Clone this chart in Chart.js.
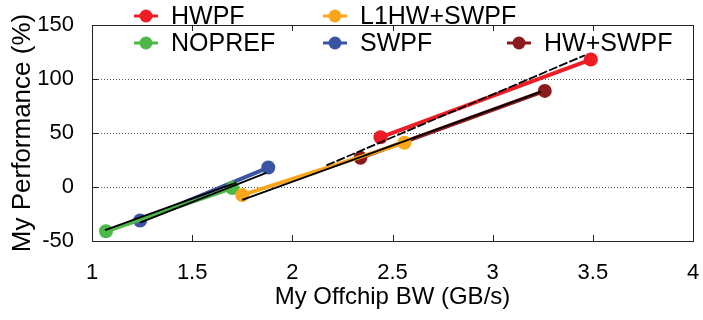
<!DOCTYPE html>
<html>
<head>
<meta charset="utf-8">
<script src="https://cdn.jsdelivr.net/npm/chart.js@4/dist/chart.umd.min.js"></script>
<style>
  html, body { margin: 0; padding: 0; background: #fff; }
  #wrap { width: 703px; height: 320px; }
</style>
</head>
<body>
<div id="wrap"><canvas id="c" width="703" height="320"></canvas></div>
<script>
// Each configuration: offchip bandwidth (GB/s) vs performance (%)
const seriesNames = ['HWPF', 'L1HW+SWPF', 'NOPREF', 'SWPF', 'HW+SWPF'];
const seriesColors = ['#ee1d25', '#f9a61d', '#4db848', '#3a54a4', '#8b1a1c'];

const hwpfBW = [2.44, 3.49];
const hwpfPerf = [46, 118];
const l1hwSwpfBW = [1.75, 2.56];
const l1hwSwpfPerf = [-7.5, 41];
const noprefBW = [1.07, 1.70];
const noprefPerf = [-41, -1];
const swpfBW = [1.24, 1.88];
const swpfPerf = [-31, 18];
const hwSwpfBW = [2.34, 3.26];
const hwSwpfPerf = [27, 89];

// Black trend segments
const trendA_BW = [1.065, 1.72];
const trendA_Perf = [-40, 4];
const trendB_BW = [1.24, 1.87];
const trendB_Perf = [-33, 13];
const trendC_BW = [1.75, 3.24];
const trendC_Perf = [-12, 88];
const trendD_BW = [2.17, 3.46];
const trendD_Perf = [20, 122];

const xTicks = [1, 1.5, 2, 2.5, 3, 3.5, 4];
const yTicks = [-50, 0, 50, 100, 150];

const pts = (xs, ys) => xs.map((x, i) => ({ x: x, y: ys[i] }));

const seriesData = [
  pts(hwpfBW, hwpfPerf),
  pts(l1hwSwpfBW, l1hwSwpfPerf),
  pts(noprefBW, noprefPerf),
  pts(swpfBW, swpfPerf),
  pts(hwSwpfBW, hwSwpfPerf)
];

const datasets = seriesNames.map((name, i) => ({
  label: name,
  data: seriesData[i],
  borderColor: seriesColors[i],
  backgroundColor: seriesColors[i],
  borderWidth: 4,
  pointRadius: 7,
  pointHoverRadius: 7,
  pointBorderWidth: 0,
  order: 2
}));

const trends = [
  [trendA_BW, trendA_Perf, []],
  [trendB_BW, trendB_Perf, []],
  [trendC_BW, trendC_Perf, []],
  [trendD_BW, trendD_Perf, [9, 2]]
];
trends.forEach(([xs, ys, dash]) => {
  datasets.push({
    label: '',
    data: pts(xs, ys),
    borderColor: '#000',
    borderWidth: 1.8,
    borderDash: dash,
    pointRadius: 0,
    order: 1
  });
});

const FONT = '"Liberation Sans", Arial, sans-serif';

// Box, inward ticks, dotted grid and the two-row key
const framePlugin = {
  id: 'frame',
  beforeDatasetsDraw(chart) {
    const { ctx, chartArea: a, scales } = chart;
    ctx.save();
    ctx.strokeStyle = '#555';
    ctx.lineWidth = 1;
    ctx.setLineDash([1, 2]);
    [0, 50, 100].forEach(v => {
      const y = Math.round(scales.y.getPixelForValue(v)) + 0.5;
      ctx.beginPath();
      ctx.moveTo(a.left, y);
      ctx.lineTo(a.right, y);
      ctx.stroke();
    });
    ctx.restore();
  },
  afterDatasetsDraw(chart) {
    const { ctx, chartArea: a, scales } = chart;
    ctx.save();
    ctx.strokeStyle = '#222';
    ctx.lineWidth = 1;
    ctx.strokeRect(Math.round(a.left) + 0.5, Math.round(a.top) + 0.5,
                   Math.round(a.right - a.left), Math.round(a.bottom - a.top));
    const t = 6;
    ctx.beginPath();
    xTicks.slice(1, -1).forEach(v => {
      const x = Math.round(scales.x.getPixelForValue(v)) + 0.5;
      ctx.moveTo(x, a.bottom); ctx.lineTo(x, a.bottom - t);
      ctx.moveTo(x, a.top); ctx.lineTo(x, a.top + t);
    });
    yTicks.slice(1, -1).forEach(v => {
      const y = Math.round(scales.y.getPixelForValue(v)) + 0.5;
      ctx.moveTo(a.left, y); ctx.lineTo(a.left + t, y);
      ctx.moveTo(a.right, y); ctx.lineTo(a.right - t, y);
    });
    ctx.stroke();

    // key
    const slots = [[146, 16], [335, 16], [146, 43], [335, 43], [519, 43]];
    ctx.font = '25px ' + FONT;
    ctx.textBaseline = 'middle';
    ctx.textAlign = 'left';
    seriesNames.forEach((name, i) => {
      const [mx, my] = slots[i];
      ctx.strokeStyle = seriesColors[i];
      ctx.fillStyle = seriesColors[i];
      ctx.lineWidth = 3;
      ctx.beginPath();
      ctx.moveTo(mx - 12, my); ctx.lineTo(mx + 12, my);
      ctx.stroke();
      ctx.beginPath();
      ctx.arc(mx, my, 6.5, 0, Math.PI * 2);
      ctx.fill();
      ctx.fillStyle = '#000';
      ctx.fillText(name, mx + 25, my + 1);
    });
    ctx.restore();
  }
};

new Chart(document.getElementById('c'), {
  type: 'line',
  data: { datasets: datasets },
  options: {
    responsive: false,
    animation: false,
    devicePixelRatio: 1,
    layout: { padding: { top: 25, right: 10, left: 0, bottom: 0 } },
    plugins: { legend: { display: false }, tooltip: { enabled: false } },
    scales: {
      x: {
        type: 'linear',
        min: 1, max: 4,
        afterBuildTicks: s => { s.ticks = xTicks.map(v => ({ value: v })); },
        afterFit: s => { s.height = 79; s.paddingLeft = 0; s.paddingRight = 0; },
        grid: { display: false },
        border: { display: false },
        ticks: {
          color: '#000',
          padding: 11,
          maxRotation: 0,
          font: { family: FONT, size: 22 },
          callback: v => String(v)
        },
        title: {
          display: true,
          text: 'My Offchip BW (GB/s)',
          color: '#000',
          padding: { top: 0, bottom: 8 },
          font: { family: FONT, size: 24 }
        }
      },
      y: {
        type: 'linear',
        min: -50, max: 150,
        afterBuildTicks: s => { s.ticks = yTicks.map(v => ({ value: v })); },
        afterFit: s => { s.width = 92; },
        grid: { display: false },
        border: { display: false },
        ticks: {
          color: '#000',
          padding: 10,
          font: { family: FONT, size: 22 }
        },
        title: {
          display: true,
          text: 'My Performance (%)',
          color: '#000',
          padding: { top: 7, bottom: 0 },
          font: { family: FONT, size: 26 }
        }
      }
    }
  },
  plugins: [framePlugin]
});
</script>
</body>
</html>
